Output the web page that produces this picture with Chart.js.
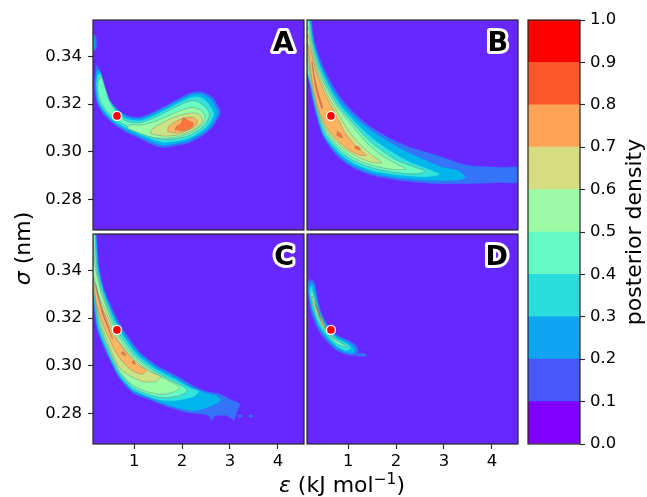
<!DOCTYPE html>
<html><head><meta charset="utf-8">
<script src="https://cdn.jsdelivr.net/npm/chart.js@4/dist/chart.umd.min.js"></script>
<style>
html,body{margin:0;padding:0;background:#fff;}
#wrap{position:relative;width:647px;height:497px;overflow:hidden;background:#fff;}
#wrap canvas{position:absolute;left:0;top:0;}
</style></head><body>
<div id="wrap">
<canvas id="pA" width="647" height="497"></canvas>
<canvas id="pB" width="647" height="497"></canvas>
<canvas id="pC" width="647" height="497"></canvas>
<canvas id="pD" width="647" height="497"></canvas>
<canvas id="cb" width="647" height="497"></canvas>
</div>
<script>
// ---------------- DATA ----------------
const levels = [0,0.1,0.2,0.3,0.4,0.5,0.6,0.7,0.8,0.9,1.0];
const cbTicks = [0,0.1,0.2,0.3,0.4,0.5,0.6,0.7,0.8,0.9,1.0];
const xTicks = [1,2,3,4];
const yTicks = [0.28,0.30,0.32,0.34];
const xRange = [0.14,4.545];
const yRange = [0.2672,0.3552];
const panelLabels = ['A','B','C','D'];
const refPoint = [0.64,0.315];

// Panel A: contour polygons (epsilon, sigma) per level (>0.1 ... >0.8)
const A1 = [[[0.212,0.3362],[0.177,0.3287],[0.212,0.3215],[0.343,0.3161],[0.552,0.3119],[0.843,0.3081],[1.114,0.3056],[1.323,0.3035],[1.593,0.3018],[1.885,0.3026],[2.156,0.3039],[2.427,0.3068],[2.614,0.3098],[2.718,0.3131],[2.80,0.3161],[2.74,0.3194],[2.635,0.3228],[2.427,0.3249],[2.218,0.3249],[1.948,0.3224],[1.677,0.3194],[1.385,0.3165],[1.114,0.3144],[0.843,0.3152],[0.635,0.3182],[0.447,0.3228],[0.343,0.3287],[0.281,0.3341]],
  [[0.10,0.3495],[0.19,0.3488],[0.215,0.3455],[0.19,0.3425],[0.10,0.3420]]];
const A2 = [[[0.225,0.334],[0.2,0.3285],[0.235,0.3215],[0.36,0.3166],[0.56,0.3126],[0.85,0.3089],[1.12,0.3064],[1.33,0.3045],[1.6,0.3028],[1.88,0.3035],[2.15,0.3048],[2.41,0.3076],[2.58,0.3104],[2.68,0.3134],[2.74,0.3162],[2.69,0.3190],[2.6,0.3219],[2.42,0.3240],[2.22,0.3240],[1.95,0.3216],[1.68,0.3186],[1.39,0.3157],[1.12,0.3137],[0.84,0.3145],[0.64,0.3175],[0.46,0.3222],[0.36,0.3282],[0.29,0.3335]],
  [[0.10,0.3485],[0.16,0.348],[0.18,0.3455],[0.16,0.343],[0.10,0.3428]]];
const A3 = [[[0.24,0.332],[0.22,0.328],[0.26,0.3215],[0.38,0.3172],[0.57,0.3133],[0.86,0.3097],[1.13,0.3073],[1.35,0.3055],[1.6,0.3040],[1.88,0.3045],[2.14,0.3057],[2.38,0.3083],[2.53,0.3108],[2.62,0.3136],[2.66,0.3160],[2.61,0.3184],[2.52,0.3208],[2.38,0.3228],[2.2,0.3228],[1.95,0.3206],[1.68,0.3177],[1.39,0.3148],[1.12,0.3129],[0.84,0.3137],[0.65,0.3167],[0.48,0.3215],[0.38,0.3275],[0.3,0.3325]]];
const A4 = [[[0.25,0.330],[0.24,0.327],[0.28,0.3215],[0.40,0.3178],[0.58,0.3140],[0.87,0.3105],[1.14,0.3082],[1.36,0.3064],[1.6,0.3052],[1.88,0.3055],[2.12,0.3066],[2.34,0.3090],[2.47,0.3112],[2.55,0.3138],[2.57,0.3158],[2.52,0.3178],[2.42,0.3198],[2.3,0.3212],[2.15,0.3212],[1.95,0.3196],[1.68,0.3168],[1.40,0.3140],[1.12,0.3122],[0.84,0.3128],[0.66,0.3158],[0.50,0.3205],[0.40,0.3262],[0.31,0.3315]]];
const A5 = [[[0.85,0.3098],[1.15,0.3075],[1.4,0.3060],[1.65,0.3057],[1.9,0.3062],[2.12,0.3075],[2.32,0.3097],[2.46,0.3125],[2.48,0.3150],[2.40,0.3172],[2.25,0.3185],[2.08,0.3180],[1.88,0.3165],[1.65,0.3145],[1.40,0.3125],[1.15,0.3112],[0.9,0.3112]]];
const A6 = [[[1.35,0.3075],[1.6,0.3066],[1.85,0.3068],[2.1,0.3080],[2.3,0.3100],[2.42,0.3125],[2.40,0.3148],[2.28,0.3162],[2.1,0.3160],[1.88,0.3148],[1.65,0.3128],[1.45,0.3105],[1.35,0.3090]]];
const A7 = [[[1.7,0.3085],[1.9,0.3078],[2.1,0.3088],[2.28,0.3108],[2.32,0.3130],[2.22,0.3145],[2.05,0.3142],[1.88,0.3128],[1.72,0.3105]]];
const A8 = [[[1.85,0.3092],[2.0,0.3088],[2.18,0.3098],[2.24,0.3118],[2.15,0.3128],[2.02,0.3142],[1.98,0.3118],[1.88,0.3105]]];

// Panel B
const B1 = [[[0.1,0.357],[0.1,0.343],[0.193,0.3291],[0.298,0.3182],[0.465,0.3069],[0.759,0.2985],[1.094,0.2934],[1.514,0.2901],[2.08,0.288],[2.772,0.2867],[3.484,0.2867],[4.176,0.2871],[4.6,0.2875],[4.6,0.2932],[4.176,0.2934],[3.484,0.2943],[2.98,0.2976],[2.646,0.2997],[2.29,0.3018],[1.87,0.3056],[1.514,0.3098],[1.178,0.3152],[0.885,0.3215],[0.675,0.3278],[0.465,0.3362],[0.298,0.3459],[0.235,0.3543],[0.235,0.357]]];
const B2 = [[[0.1,0.357],[0.1,0.340],[0.21,0.3285],[0.32,0.3178],[0.49,0.3068],[0.78,0.2990],[1.1,0.2942],[1.52,0.2910],[2.08,0.2890],[2.77,0.2880],[3.3,0.2882],[3.45,0.2892],[3.3,0.2920],[2.95,0.2935],[2.6,0.2965],[2.27,0.2995],[1.86,0.3040],[1.5,0.3085],[1.16,0.3140],[0.86,0.3205],[0.64,0.3272],[0.44,0.3355],[0.28,0.3455],[0.22,0.3543],[0.22,0.357]]];
const B3 = [[[0.1,0.357],[0.1,0.338],[0.22,0.328],[0.34,0.3175],[0.51,0.307],[0.8,0.2998],[1.12,0.2952],[1.53,0.2920],[2.08,0.2902],[2.6,0.2895],[2.9,0.2905],[2.7,0.2925],[2.3,0.2955],[1.86,0.3005],[1.48,0.3060],[1.14,0.3125],[0.83,0.3195],[0.62,0.3265],[0.42,0.3350],[0.27,0.3450],[0.2,0.3543],[0.2,0.357]]];
const B4 = [[[0.12,0.356],[0.12,0.336],[0.23,0.3275],[0.35,0.3172],[0.53,0.3075],[0.82,0.3005],[1.14,0.2960],[1.55,0.2930],[2.05,0.2912],[2.45,0.2908],[2.6,0.2918],[2.4,0.2935],[2.0,0.2965],[1.7,0.3005],[1.42,0.3050],[1.12,0.3115],[0.8,0.3190],[0.6,0.3258],[0.4,0.3345],[0.26,0.3445],[0.19,0.3543],[0.17,0.356]]];
const B5 = [[[0.12,0.350],[0.15,0.338],[0.24,0.327],[0.36,0.317],[0.55,0.308],[0.85,0.3012],[1.17,0.2968],[1.55,0.2940],[1.95,0.2925],[2.2,0.2928],[2.0,0.2950],[1.7,0.2985],[1.4,0.3035],[1.1,0.3105],[0.78,0.3185],[0.58,0.3252],[0.38,0.334],[0.24,0.344],[0.17,0.352]]];
const B6 = [[[0.14,0.347],[0.18,0.337],[0.26,0.3265],[0.38,0.3168],[0.57,0.3085],[0.87,0.3020],[1.2,0.2978],[1.5,0.2955],[1.7,0.2955],[1.5,0.2985],[1.25,0.3030],[1.0,0.3090],[0.75,0.3175],[0.55,0.3245],[0.36,0.3335],[0.22,0.3435],[0.17,0.349]]];
const B7 = [[[0.16,0.345],[0.2,0.336],[0.28,0.326],[0.4,0.3165],[0.6,0.3088],[0.9,0.3025],[1.2,0.2988],[1.38,0.2985],[1.2,0.3015],[0.95,0.3075],[0.72,0.3165],[0.52,0.3240],[0.34,0.3330],[0.22,0.3420]]];
const B8 = [[[0.24,0.338],[0.27,0.333],[0.33,0.326],[0.45,0.318],[0.47,0.3185],[0.38,0.3245],[0.3,0.331],[0.25,0.337]],
  [[0.76,0.3068],[0.88,0.3058],[0.86,0.3072],[0.78,0.3085]],
  [[1.15,0.3012],[1.26,0.3008],[1.22,0.3020],[1.14,0.3022]]];

// Panel C
const C1 = [[[0.2,0.358],[0.21,0.3547],[0.26,0.3422],[0.34,0.334],[0.45,0.328],[0.62,0.3205],[0.8,0.3142],[1.11,0.3059],[1.5,0.2998],[1.9,0.2956],[2.25,0.2914],[2.5,0.2893],[2.8,0.2880],[3.0,0.2858],[3.2,0.2840],[3.13,0.2800],[3.08,0.2772],[2.95,0.2790],[2.68,0.2790],[2.62,0.2770],[2.55,0.2792],[2.1,0.2805],[1.67,0.2830],[1.32,0.2858],[0.98,0.2885],[0.7,0.2945],[0.51,0.3017],[0.24,0.3142],[0.14,0.328],[0.1,0.331],[0.1,0.358]],
  [[3.17,0.2793],[3.24,0.2793],[3.24,0.2785],[3.17,0.2785]],
  [[3.40,0.2793],[3.47,0.2793],[3.47,0.2785],[3.40,0.2785]]];
const C2 = [[[0.19,0.358],[0.2,0.3547],[0.245,0.3415],[0.33,0.3335],[0.44,0.3272],[0.6,0.3198],[0.78,0.3135],[1.09,0.3052],[1.48,0.2990],[1.88,0.2948],[2.22,0.2908],[2.5,0.2885],[2.7,0.2875],[2.8,0.2855],[2.65,0.2835],[2.3,0.2812],[2.1,0.2815],[1.67,0.2838],[1.32,0.2866],[0.98,0.2893],[0.7,0.2953],[0.51,0.3025],[0.25,0.3152],[0.15,0.3285],[0.1,0.332],[0.1,0.358]]];
const C3 = [[[0.18,0.358],[0.19,0.3547],[0.235,0.3405],[0.32,0.333],[0.43,0.3265],[0.58,0.3192],[0.76,0.3128],[1.06,0.3046],[1.45,0.2984],[1.85,0.2942],[2.15,0.2908],[2.35,0.2892],[2.25,0.2872],[1.9,0.2855],[1.6,0.2855],[1.3,0.2872],[0.98,0.2900],[0.7,0.2960],[0.51,0.3032],[0.26,0.316],[0.16,0.329],[0.1,0.333],[0.1,0.358]]];
const C4 = [[[0.17,0.358],[0.18,0.3547],[0.225,0.3395],[0.31,0.3322],[0.42,0.3258],[0.56,0.3186],[0.73,0.3122],[1.03,0.3040],[1.42,0.2978],[1.8,0.2936],[2.05,0.2910],[2.1,0.2893],[1.95,0.2875],[1.6,0.2866],[1.3,0.2880],[0.98,0.2908],[0.7,0.2968],[0.52,0.3040],[0.27,0.3168],[0.17,0.3295],[0.1,0.334],[0.1,0.358]]];
const C5 = [[[0.15,0.352],[0.18,0.343],[0.215,0.3385],[0.3,0.3312],[0.41,0.3250],[0.54,0.3180],[0.7,0.3115],[1.0,0.3034],[1.38,0.2974],[1.75,0.2934],[1.95,0.2910],[1.85,0.2892],[1.6,0.2880],[1.3,0.2890],[0.98,0.2917],[0.7,0.2976],[0.52,0.3048],[0.28,0.3175],[0.18,0.3285],[0.14,0.336]]];
const C6 = [[[0.16,0.337],[0.2,0.3335],[0.28,0.3282],[0.4,0.3232],[0.52,0.3170],[0.66,0.3110],[0.95,0.3035],[1.3,0.2978],[1.55,0.2955],[1.45,0.2935],[1.2,0.2933],[0.95,0.2953],[0.7,0.2990],[0.52,0.3062],[0.3,0.3180],[0.2,0.3265],[0.15,0.333]]];
const C7 = [[[0.17,0.3355],[0.21,0.3315],[0.3,0.3255],[0.42,0.3200],[0.55,0.3135],[0.8,0.3065],[1.05,0.3008],[1.25,0.2980],[1.15,0.2964],[0.9,0.2988],[0.65,0.3045],[0.45,0.3125],[0.3,0.3200],[0.2,0.3275],[0.165,0.332]]];
const C8 = [[[0.2,0.334],[0.26,0.328],[0.34,0.3215],[0.45,0.3160],[0.55,0.3112],[0.52,0.3128],[0.42,0.3185],[0.32,0.3245],[0.24,0.3305]],
  [[0.72,0.3052],[0.82,0.3042],[0.78,0.3060]],
  [[0.95,0.3012],[1.02,0.3006],[0.99,0.3022]]];

// Panel D
const D1 = [[[0.214,0.3362],[0.29,0.3350],[0.36,0.3280],[0.44,0.3222],[0.58,0.3168],[0.79,0.3126],[1.03,0.3104],[1.17,0.3083],[1.21,0.3060],[1.13,0.3043],[0.95,0.3048],[0.73,0.3068],[0.55,0.3103],[0.37,0.3152],[0.22,0.3230],[0.16,0.3318],[0.155,0.3348]],
  [[1.17,0.3052],[1.35,0.3050],[1.38,0.3042],[1.2,0.3040]]];
const D2 = [[[0.225,0.3348],[0.28,0.3335],[0.35,0.3268],[0.43,0.3214],[0.57,0.3162],[0.78,0.3119],[1.0,0.3097],[1.12,0.3076],[1.12,0.3054],[0.95,0.3056],[0.74,0.3077],[0.56,0.3112],[0.39,0.3160],[0.25,0.3234],[0.18,0.3318]]];
const D3 = [[[0.23,0.3333],[0.33,0.3268],[0.42,0.3207],[0.56,0.3154],[0.77,0.3112],[0.98,0.3090],[1.06,0.3073],[0.95,0.3064],[0.75,0.3085],[0.58,0.3120],[0.41,0.3167],[0.27,0.3236],[0.2,0.3310]]];
const D4 = [[[0.24,0.3318],[0.32,0.3264],[0.41,0.3206],[0.55,0.3150],[0.75,0.3107],[0.93,0.3088],[0.97,0.3078],[0.78,0.3090],[0.6,0.3125],[0.43,0.3170],[0.29,0.3234],[0.22,0.3300]]];
const D5 = [[[0.26,0.3292],[0.33,0.3257],[0.41,0.3206],[0.53,0.3153],[0.68,0.3116],[0.72,0.3110],[0.6,0.3133],[0.45,0.3178],[0.32,0.3234],[0.25,0.3280]]];
const D6 = [[[0.29,0.327],[0.36,0.3235],[0.44,0.3185],[0.55,0.315],[0.62,0.3138],[0.52,0.3162],[0.42,0.321],[0.34,0.3245]]];
const D7 = [[[0.31,0.3255],[0.38,0.3218],[0.46,0.3175],[0.54,0.3152],[0.5,0.317],[0.42,0.3205],[0.34,0.3245]]];
const D8 = [[[0.33,0.3245],[0.38,0.322],[0.42,0.3198],[0.40,0.3215],[0.35,0.3242]]];

// ---------------- STYLE ----------------
const bandFill = ['#6628fe','#3374f8','#00b4ec','#33e3d9','#66fcc2','#99fca6','#cce385','#ffb462','#ff743b','#ff2814'];
const cbFill = ['#8000ff','#4757fb','#0ea4f0','#2adddd','#63fbc3','#9cfba4','#d4dd80','#ffa457','#ff572c','#ff0000'];
const FONT = '"DejaVu Sans", "Liberation Sans", sans-serif';
const W = 647, H = 497;
const frameColor = '#262626';

function buildDatasets(bands) {
  const ds = [];
  bands.forEach((polys, i) => {
    const li = i + 1;
    polys.forEach(p => {
      const pts = p.map(([x, y]) => ({x, y}));
      pts.push({x: p[0][0], y: p[0][1]});
      ds.push({
        data: pts, showLine: true, fill: 'shape', tension: 0.25,
        backgroundColor: bandFill[li],
        borderColor: li >= 4 ? 'rgba(110,110,110,0.55)' : bandFill[li],
        borderWidth: li >= 4 ? 0.7 : 0.5,
        pointRadius: 0, order: 30 - li
      });
    });
  });
  ds.push({data: [{x: refPoint[0], y: refPoint[1]}], showLine: false, pointRadius: 4.5,
    pointBackgroundColor: '#ff0000', pointBorderColor: '#ffffff', pointBorderWidth: 1.3, order: 0});
  return ds;
}

function panel(id, area, bands, label, showX, showY, extraPlugins) {
  const xH = 40;
  const bgPlugin = {
    id: 'bg' + id,
    beforeDatasetsDraw(c) {
      const a = c.chartArea, ctx = c.ctx;
      ctx.save(); ctx.fillStyle = bandFill[0];
      ctx.fillRect(a.left, a.top, a.right - a.left, a.bottom - a.top); ctx.restore();
    },
    afterDatasetsDraw(c) {
      const a = c.chartArea, ctx = c.ctx;
      ctx.save();
      ctx.strokeStyle = frameColor; ctx.lineWidth = 1.2;
      ctx.strokeRect(a.left, a.top, a.right - a.left, a.bottom - a.top);
      ctx.font = 'bold 27px ' + FONT;
      ctx.textAlign = 'right'; ctx.textBaseline = 'alphabetic';
      ctx.lineJoin = 'round'; ctx.lineWidth = 6; ctx.strokeStyle = '#ffffff';
      ctx.strokeText(label, a.right - 10, a.top + 31);
      ctx.fillStyle = '#000000';
      ctx.fillText(label, a.right - 10, a.top + 31);
      ctx.restore();
    }
  };
  return new Chart(document.getElementById(id), {
    type: 'line',
    data: {datasets: buildDatasets(bands)},
    options: {
      responsive: false, animation: false, events: [],
      layout: {padding: {left: showY ? 0 : area[0], top: area[1], right: W - area[2], bottom: showX ? H - area[3] - xH : H - area[3]}},
      plugins: {legend: {display: false}, tooltip: {enabled: false}},
      scales: {
        x: {type: 'linear', min: xRange[0], max: xRange[1], display: showX,
          afterBuildTicks: s => { s.ticks = xTicks.map(v => ({value: v})); },
          afterFit: s => { s.height = showX ? xH : 0; },
          grid: {drawOnChartArea: false, drawTicks: true, tickLength: 5, tickColor: frameColor, tickWidth: 1.1},
          border: {display: false},
          ticks: {font: {family: FONT, size: 16.5}, color: '#000', padding: 3, maxRotation: 0,
            callback: v => v.toFixed(0)}},
        y: {type: 'linear', min: yRange[0], max: yRange[1], display: showY,
          afterBuildTicks: s => { s.ticks = yTicks.map(v => ({value: v})); },
          afterFit: s => { s.width = showY ? area[0] : 0; },
          grid: {drawOnChartArea: false, drawTicks: true, tickLength: 5, tickColor: frameColor, tickWidth: 1.1},
          border: {display: false},
          ticks: {font: {family: FONT, size: 16.5}, color: '#000', padding: 6,
            callback: v => v.toFixed(2)}}
      }
    },
    plugins: [bgPlugin].concat(extraPlugins || [])
  });
}

const titlePlugin = {
  id: 'figtitles',
  afterDraw(c) {
    const ctx = c.ctx;
    ctx.save();
    ctx.fillStyle = '#000';
    ctx.textBaseline = 'alphabetic';
    const parts = [
      {t: 'ε', f: 'italic 22px ' + FONT, dy: 0},
      {t: ' (kJ mol', f: '22px ' + FONT, dy: 0},
      {t: '−1', f: '15.5px ' + FONT, dy: -8},
      {t: ')', f: '22px ' + FONT, dy: 0}
    ];
    let tw = 0;
    parts.forEach(p => { ctx.font = p.f; p.w = ctx.measureText(p.t).width; tw += p.w; });
    let x = 342 - tw / 2;
    parts.forEach(p => { ctx.font = p.f; ctx.textAlign = 'left'; ctx.fillText(p.t, x, 492 + p.dy); x += p.w; });
    ctx.translate(30, 248.5);
    ctx.rotate(-Math.PI / 2);
    const yp = [{t: 'σ', f: 'italic 22px ' + FONT}, {t: ' (nm)', f: '22px ' + FONT}];
    let yw = 0;
    yp.forEach(p => { ctx.font = p.f; p.w = ctx.measureText(p.t).width; yw += p.w; });
    let yx = -yw / 2;
    yp.forEach(p => { ctx.font = p.f; ctx.textAlign = 'left'; ctx.fillText(p.t, yx, 0); yx += p.w; });
    ctx.restore();
  }
};

panel('pA', [93, 20, 304, 230], [A1, A2, A3, A4, A5, A6, A7, A8], panelLabels[0], false, true);
panel('pB', [307, 20, 518, 230], [B1, B2, B3, B4, B5, B6, B7, B8], panelLabels[1], false, false);
panel('pC', [93, 234, 304, 444], [C1, C2, C3, C4, C5, C6, C7, C8], panelLabels[2], true, true, [titlePlugin]);
panel('pD', [307, 234, 518, 444], [D1, D2, D3, D4, D5, D6, D7, D8], panelLabels[3], true, false);

// ---------------- COLORBAR ----------------
const cbArea = [528, 20, 580, 444];
const cbAxisW = 60;
const cbPlugin = {
  id: 'cbframe',
  afterDatasetsDraw(c) {
    const a = c.chartArea, ctx = c.ctx;
    ctx.save();
    ctx.strokeStyle = frameColor; ctx.lineWidth = 1.2;
    ctx.strokeRect(a.left, a.top, a.right - a.left, a.bottom - a.top);
    ctx.restore();
  },
  afterDraw(c) {
    const a = c.chartArea, ctx = c.ctx;
    ctx.save();
    ctx.fillStyle = '#000';
    ctx.font = '22px ' + FONT;
    ctx.textAlign = 'center'; ctx.textBaseline = 'alphabetic';
    ctx.translate(641, (a.top + a.bottom) / 2);
    ctx.rotate(-Math.PI / 2);
    ctx.fillText('posterior density', 0, 0);
    ctx.restore();
  }
};
new Chart(document.getElementById('cb'), {
  type: 'bar',
  data: {
    labels: [''],
    datasets: levels.slice(0, -1).map((lo, i) => ({
      data: [[lo, levels[i + 1]]], backgroundColor: cbFill[i], borderWidth: 0,
      grouped: false, barPercentage: 1, categoryPercentage: 1
    }))
  },
  options: {
    responsive: false, animation: false, events: [],
    layout: {padding: {left: cbArea[0], top: cbArea[1], right: W - cbArea[2] - cbAxisW, bottom: H - cbArea[3]}},
    plugins: {legend: {display: false}, tooltip: {enabled: false}},
    scales: {
      x: {display: false},
      y: {position: 'right', min: 0, max: 1,
        afterBuildTicks: s => { s.ticks = cbTicks.map(v => ({value: v})); },
        afterFit: s => { s.width = cbAxisW; },
        grid: {drawOnChartArea: false, drawTicks: true, tickLength: 5, tickColor: frameColor, tickWidth: 1.1},
        border: {display: false},
        ticks: {font: {family: FONT, size: 16.5}, color: '#000', padding: 5, callback: v => v.toFixed(1)}}
    }
  },
  plugins: [cbPlugin]
});
</script>
</body></html>
